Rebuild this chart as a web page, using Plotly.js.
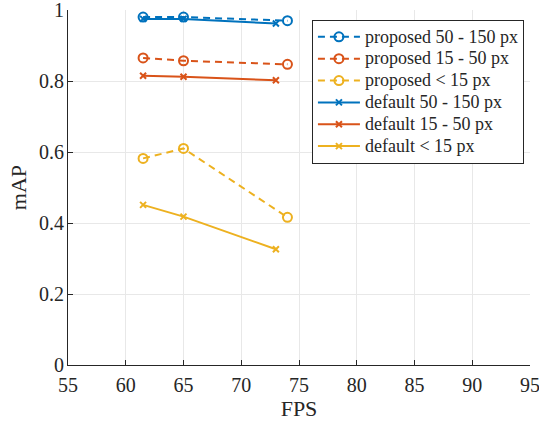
<!DOCTYPE html>
<html>
<head>
<meta charset="utf-8">
<script src="https://cdn.plot.ly/plotly-3.0.1.min.js"></script>
<style>
  html, body { margin: 0; padding: 0; background: #fff; }
  #chart { width: 539px; height: 425px; }
</style>
</head>
<body>
<div id="chart"></div>
<script>
// Frame rate of each detector configuration
const fpsProposed = [61.5, 65, 74];
const fpsDefault = [61.5, 65, 73];

// mAP per object-size bucket
const propLarge = [0.980, 0.980, 0.970];
const propMedium = [0.865, 0.857, 0.847];
const propSmall = [0.582, 0.610, 0.416];
const defLarge = [0.975, 0.975, 0.962];
const defMedium = [0.815, 0.812, 0.802];
const defSmall = [0.451, 0.418, 0.326];

const seriesNames = [
  'proposed 50 - 150 px', 'proposed 15 - 50 px', 'proposed < 15 px',
  'default 50 - 150 px', 'default 15 - 50 px', 'default < 15 px'
];

const xTicks = [55, 60, 65, 70, 75, 80, 85, 90, 95];
const yTicks = [0, 0.2, 0.4, 0.6, 0.8, 1];

const blue = '#0072BD', orange = '#D95319', yellow = '#EDB120';

// legend rows are spaced from a smaller base size; the label itself is drawn larger
const legendLabel = (s) => '<span style="font-size:18px">' + s.replace('<', '&lt;') + '</span>';

function proposed(y, name, color) {
  return {
    x: fpsProposed, y: y, name: legendLabel(name), type: 'scatter', mode: 'lines+markers',
    line: { color: color, width: 2, dash: '7px,5px' },
    marker: { symbol: 'circle-open', size: 9, color: color, line: { width: 2, color: color } }
  };
}
function baseline(y, name, color) {
  return {
    x: fpsDefault, y: y, name: legendLabel(name), type: 'scatter', mode: 'lines+markers',
    line: { color: color, width: 2 },
    marker: { symbol: 'x-thin-open', size: 6, color: color, line: { width: 2, color: color } }
  };
}

const traces = [
  proposed(propLarge, seriesNames[0], blue),
  proposed(propMedium, seriesNames[1], orange),
  proposed(propSmall, seriesNames[2], yellow),
  baseline(defLarge, seriesNames[3], blue),
  baseline(defMedium, seriesNames[4], orange),
  baseline(defSmall, seriesNames[5], yellow)
];

const axisColor = '#262626';
const family = 'Liberation Serif, Times New Roman, serif';
const f = (size) => ({ family: family, size: size, color: axisColor });

const layout = {
  width: 539, height: 425,
  margin: { l: 68, r: 9, t: 10, b: 60 },
  paper_bgcolor: '#fff', plot_bgcolor: '#fff',
  font: f(20),
  showlegend: true,
  legend: {
    x: 0.528, y: 0.972, xanchor: 'left', yanchor: 'top',
    bgcolor: '#fff', bordercolor: axisColor, borderwidth: 1,
    font: f(14.5), itemwidth: 42,
    tracegroupgap: 0
  },
  xaxis: {
    range: [55, 95], tickmode: 'array', tickvals: xTicks, ticktext: xTicks.map(String),
    showgrid: true, gridcolor: '#e8e8e8', gridwidth: 1,
    zeroline: false, showline: true, linecolor: axisColor, linewidth: 1,
    ticks: 'inside', ticklen: 5, tickcolor: axisColor,
    tickfont: f(20), automargin: false, ticklabeloverflow: 'allow', ticklabelstandoff: 2,
    title: { text: 'FPS', font: f(22), standoff: 5 }
  },
  yaxis: {
    range: [0, 1], tickmode: 'array', tickvals: yTicks, ticktext: yTicks.map(String),
    showgrid: true, gridcolor: '#e8e8e8', gridwidth: 1,
    zeroline: false, showline: true, linecolor: axisColor, linewidth: 1,
    ticks: 'inside', ticklen: 5, tickcolor: axisColor,
    tickfont: f(20), automargin: false, ticklabeloverflow: 'allow', ticklabelstandoff: -1,
    title: { text: 'mAP', font: f(22), standoff: 6 }
  }
};

Plotly.newPlot('chart', traces, layout, { displayModeBar: false, staticPlot: true });
</script>
</body>
</html>
